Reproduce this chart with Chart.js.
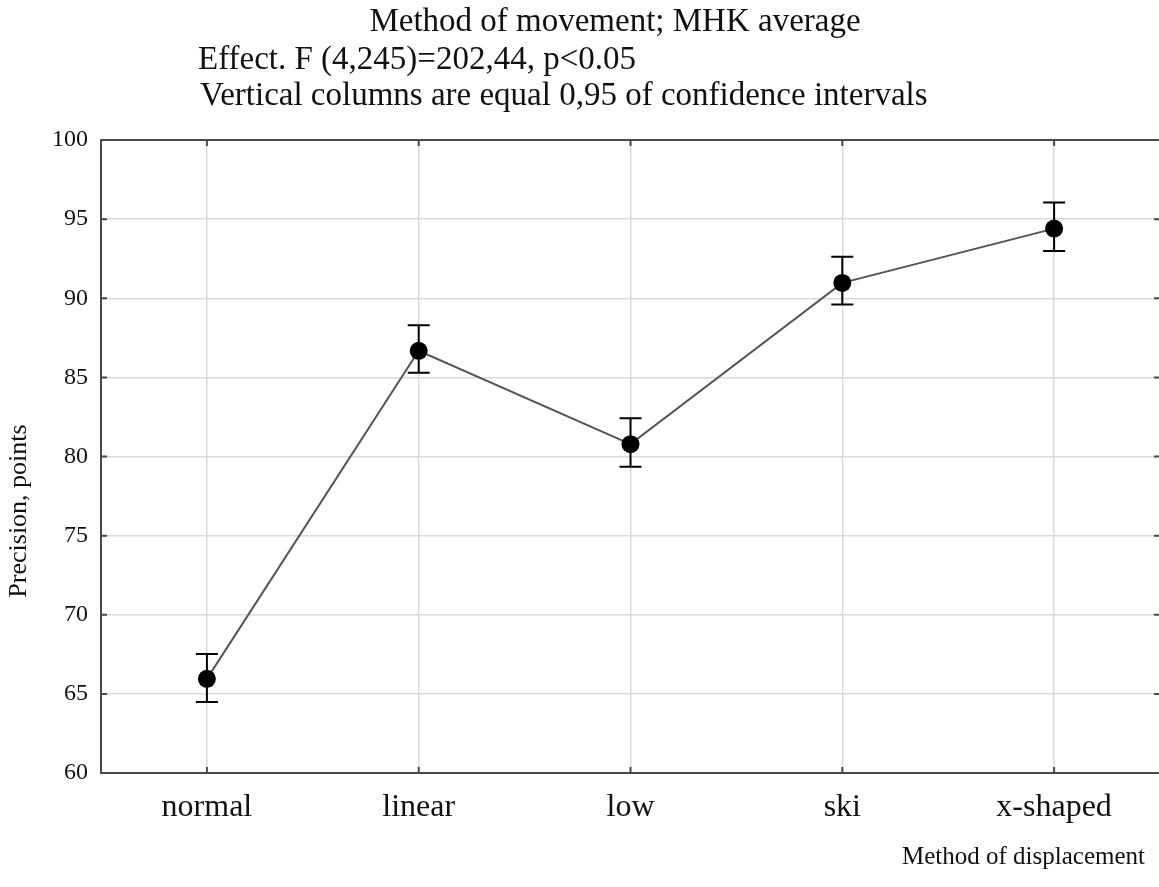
<!DOCTYPE html>
<html>
<head>
<meta charset="utf-8">
<script src="https://cdn.jsdelivr.net/npm/chart.js@4/dist/chart.umd.min.js"></script>
<style>
  html, body { margin: 0; padding: 0; background: #fff; overflow: hidden; }
  #wrap { position: relative; width: 1169px; height: 887px; }
</style>
</head>
<body>
<div id="wrap"><canvas id="c" width="1169" height="887"></canvas></div>
<script>
// ---- data ----
const categories = ['normal', 'linear', 'low', 'ski', 'x-shaped'];
const means = [65.95, 86.68, 80.78, 90.97, 94.4];
const lowerCI = [64.49, 85.29, 79.36, 89.6, 92.98];
const upperCI = [67.52, 88.3, 82.41, 92.62, 96.05];
const yTicks = [60, 65, 70, 75, 80, 85, 90, 95, 100];
const titleLines = [
  'Method of movement; MHK average',
  'Effect. F (4,245)=202,44, p<0.05',
  'Vertical columns are equal 0,95 of confidence intervals'
];
const yTitle = 'Precision, points';
const xTitle = 'Method of displacement';

const SERIF = '"Liberation Serif", "Times New Roman", serif';

const errorBars = {
  id: 'errorBars',
  beforeDatasetsDraw(chart) {
    const { ctx, scales: { x, y } } = chart;
    ctx.save();
    ctx.strokeStyle = '#000';
    ctx.lineWidth = 2;
    for (let i = 0; i < categories.length; i++) {
      const px = x.getPixelForValue(i);
      const yt = y.getPixelForValue(upperCI[i]);
      const yb = y.getPixelForValue(lowerCI[i]);
      ctx.beginPath();
      ctx.moveTo(px, yt); ctx.lineTo(px, yb);
      ctx.moveTo(px - 11, yt); ctx.lineTo(px + 11, yt);
      ctx.moveTo(px - 11, yb); ctx.lineTo(px + 11, yb);
      ctx.stroke();
    }
    ctx.restore();
  }
};

const frame = {
  id: 'frame',
  afterDraw(chart) {
    const { ctx, chartArea: a, scales: { x, y } } = chart;
    ctx.save();
    ctx.strokeStyle = '#4a4a4a';
    ctx.lineWidth = 2;
    ctx.strokeRect(a.left, a.top, a.right - a.left, a.bottom - a.top);
    ctx.beginPath();
    y.ticks.forEach(t => {
      const py = y.getPixelForValue(t.value);
      ctx.moveTo(a.left, py); ctx.lineTo(a.left + 6, py);
      ctx.moveTo(a.right, py); ctx.lineTo(a.right - 6, py);
    });
    for (let i = 0; i < categories.length; i++) {
      const px = x.getPixelForValue(i);
      ctx.moveTo(px, a.top); ctx.lineTo(px, a.top + 6);
      ctx.moveTo(px, a.bottom); ctx.lineTo(px, a.bottom - 6);
    }
    ctx.stroke();

    // titles
    ctx.fillStyle = '#111';
    ctx.textBaseline = 'alphabetic';
    ctx.font = '33px ' + SERIF;
    ctx.textAlign = 'center';
    ctx.fillText(titleLines[0], 615, 31);
    ctx.textAlign = 'left';
    ctx.fillText(titleLines[1], 198, 69);
    ctx.fillText(titleLines[2], 200, 105);

    // axis titles
    ctx.textBaseline = 'middle';
    ctx.font = '25px ' + SERIF;
    ctx.textAlign = 'right';
    ctx.fillText(xTitle, 1145, 857);
    ctx.font = '26px ' + SERIF;
    ctx.translate(19, 511);
    ctx.rotate(-Math.PI / 2);
    ctx.textAlign = 'center';
    ctx.fillText(yTitle, 0, 0);
    ctx.restore();
  }
};

new Chart(document.getElementById('c'), {
  type: 'line',
  data: {
    labels: categories,
    datasets: [{
      data: means,
      borderColor: '#555',
      borderWidth: 2,
      pointRadius: 9,
      pointHoverRadius: 9,
      pointBackgroundColor: '#000',
      pointBorderColor: '#000',
      pointBorderWidth: 0,
      tension: 0
    }]
  },
  options: {
    responsive: false,
    animation: false,
    events: [],
    layout: { padding: { top: 140, left: 0, right: 2, bottom: 0 } },
    plugins: { legend: { display: false }, tooltip: { enabled: false }, title: { display: false } },
    scales: {
      x: {
        type: 'category',
        offset: true,
        grid: { display: true, offset: false, color: '#d9d9d9', lineWidth: 1.5, drawTicks: false },
        border: { display: false },
        ticks: { color: '#111', font: { family: SERIF, size: 32 }, padding: 15, maxRotation: 0 },
        afterFit(s) { s.height = 114; }
      },
      y: {
        min: 60, max: 100,
        afterBuildTicks(s) { s.ticks = yTicks.map(v => ({ value: v })); },
        grid: { color: '#d9d9d9', lineWidth: 1.5, drawTicks: false },
        border: { display: false },
        ticks: { color: '#111', font: { family: SERIF, size: 24 }, padding: 13 },
        afterFit(s) { s.width = 101; }
      }
    }
  },
  plugins: [errorBars, frame]
});
</script>
</body>
</html>
